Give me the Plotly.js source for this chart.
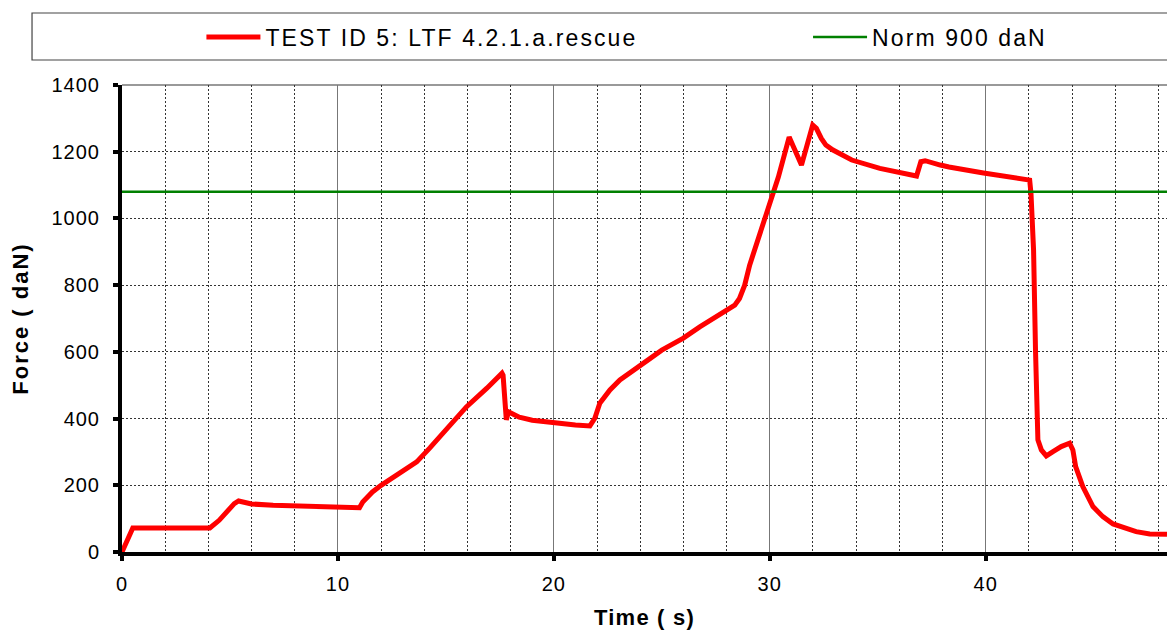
<!DOCTYPE html>
<html>
<head>
<meta charset="utf-8">
<script src="https://cdn.plot.ly/plotly-3.0.1.min.js"></script>
<style>
  html, body { margin: 0; padding: 0; background: #fff; }
  #chart { width: 1167px; height: 636px; }
  text.legendtext, g.legend text, g.legend2 text { letter-spacing: 2.1px !important; }
  g.xtick text, g.ytick text { letter-spacing: 1px; }
  text.xtitle { letter-spacing: 1.2px; }
  text.ytitle { letter-spacing: 2px; }
</style>
</head>
<body>
<div id="chart"></div>
<script>
// Time (s)
const timeS = [0, 0.5, 1.5, 3.0, 4.07, 4.5, 4.9, 5.2, 5.4, 5.7, 6.0, 7.0, 8.0, 9.0, 10.0, 11.0,
  11.15, 11.35, 11.6, 12.0, 12.5, 13.0, 13.65, 14.26, 14.7, 15.2, 15.95, 16.9, 17.6, 17.65, 17.8,
  17.9, 18.4, 19.0, 19.95, 21.0, 21.67, 21.9, 22.13, 22.6, 23.06, 23.67, 24.37, 25.0, 26.0, 26.76,
  27.92, 28.38, 28.6, 28.84, 29.07, 29.3, 29.46, 29.9, 30.4, 30.9, 31.47, 31.99, 32.16, 32.39, 32.6,
  32.93, 33.24, 33.8, 35.1, 36.0, 36.8, 37.0, 37.2, 37.9, 38.3, 39.9, 41.0, 41.9, 42.04, 42.1,
  42.22, 42.31, 42.38, 42.42, 42.58, 42.81, 43.12, 43.5, 43.89, 44.04, 44.17, 44.5, 44.97, 45.43,
  45.9, 46.36, 46.97, 47.6, 48.4];
// Force (daN)
const forceDaN = [0, 72, 72, 72, 72, 95, 126, 145, 153, 148, 144, 140, 138, 136, 134, 133,
  150, 165, 180, 200, 220, 240, 270, 312, 345, 381, 435, 491, 536, 530, 396,
  420, 404, 395, 387, 381, 378, 401, 446, 486, 516, 546, 576, 605, 641, 675,
  720, 740, 760, 800, 860, 905, 945, 1025, 1124, 1244, 1160, 1280, 1270, 1240, 1220,
  1205, 1195, 1175, 1150, 1137, 1127, 1170, 1173, 1160, 1154, 1136, 1126, 1120, 1115, 1075,
  905, 605, 426, 336, 306, 288, 301, 316, 326, 306, 256, 196, 136, 106,
  84, 73, 61, 54, 53];
// Norm line
const normX = [0, 48.4];
const normY = [1080, 1080];

const seriesName = 'TEST ID 5: LTF 4.2.1.a.rescue';
const normName = 'Norm 900 daN';

const traces = [
  { x: timeS, y: forceDaN, name: seriesName, type: 'scatter', mode: 'lines',
    line: { color: '#ff0000', width: 5, shape: 'linear' }, legend: 'legend' },
  { x: normX, y: normY, name: normName, type: 'scatter', mode: 'lines',
    line: { color: '#008000', width: 2.5 }, legend: 'legend2' }
];

const fontFam = '"Liberation Sans", Arial, sans-serif';
const legendBase = {
  orientation: 'h', xanchor: 'left', y: 1.1028, yanchor: 'middle',
  font: { family: fontFam, size: 23, color: '#000' },
  bgcolor: 'rgba(0,0,0,0)', borderwidth: 0, itemwidth: 54,
  entrywidthmode: 'pixels'
};
const layout = {
  width: 1167, height: 636,
  margin: { l: 122, r: 0, t: 85, b: 84 },
  paper_bgcolor: '#ffffff', plot_bgcolor: '#ffffff',
  font: { family: fontFam, size: 20, color: '#000' },
  showlegend: true,
  legend: Object.assign({}, legendBase, { x: 0.076, entrywidth: 460 }),
  legend2: Object.assign({}, legendBase, { x: 0.6565, entrywidth: 260 }),
  xaxis: {
    range: [0, 48.4], dtick: 10, tick0: 0,
    showline: true, linecolor: '#000', linewidth: 4,
    ticks: 'outside', ticklen: 5, tickwidth: 4, tickcolor: '#000',
    ticklabelstandoff: 6,
    showgrid: true, gridcolor: '#777', gridwidth: 1,
    zeroline: false,
    minor: { dtick: 2, showgrid: true, gridcolor: '#333', griddash: '2px,2px', gridwidth: 1, ticks: '' },
    tickfont: { family: fontFam, size: 20, color: '#000' },
    title: { text: 'Time ( s)', font: { family: fontFam, size: 22, color: '#000', weight: 'bold' }, standoff: 17 }
  },
  yaxis: {
    range: [0, 1400], dtick: 200, tick0: 0,
    showline: true, linecolor: '#000', linewidth: 4,
    ticks: 'outside', ticklen: 5, tickwidth: 4, tickcolor: '#000',
    ticklabelstandoff: 9,
    showgrid: true, gridcolor: '#333', griddash: '2px,2px', gridwidth: 1,
    zeroline: false,
    tickfont: { family: fontFam, size: 20, color: '#000' },
    title: { text: 'Force ( daN)', font: { family: fontFam, size: 22, color: '#000', weight: 'bold' }, standoff: 18 }
  },
  shapes: [
    { type: 'rect', xref: 'paper', yref: 'paper', x0: -0.0861, x1: 1.02, y0: 1.0535, y1: 1.1542,
      line: { color: '#444', width: 1.2 }, fillcolor: 'rgba(0,0,0,0)', layer: 'below' },
    { type: 'line', xref: 'paper', yref: 'paper', x0: 0, x1: 1, y0: 1, y1: 1,
      line: { color: '#999', width: 2 }, layer: 'below' }
  ]
};

Plotly.newPlot('chart', traces, layout, { displayModeBar: false, responsive: false });
</script>
</body>
</html>
